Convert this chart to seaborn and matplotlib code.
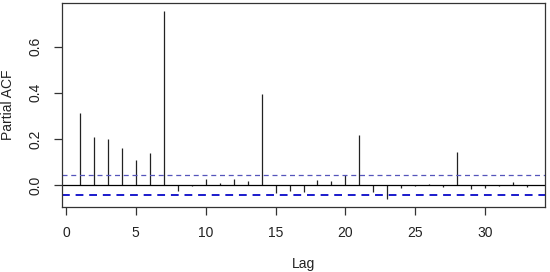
import numpy as np
import pandas as pd
import matplotlib
matplotlib.use('Agg')
import matplotlib.pyplot as plt
import seaborn as sns

# partial autocorrelation values, lags 1..33
lags = list(range(1, 34))
pacf = [0.312, 0.207, 0.200, 0.161, 0.106, 0.139, 0.757, -0.025, -0.007, 0.025,
        0.007, 0.025, 0.017, 0.396, -0.036, -0.026, -0.033, 0.022, 0.019, 0.042,
        0.215, -0.029, -0.062, -0.014, -0.004, 0.002, -0.010, 0.142, -0.019, -0.012,
        -0.005, 0.012, -0.011]
ci = 0.042
x_ticks = [0, 5, 10, 15, 20, 25, 30]
y_ticks = [0.0, 0.2, 0.4, 0.6]

df = pd.DataFrame({'lag': lags, 'pacf': pacf})

sns.set_theme(style='ticks')
plt.rcParams['font.family'] = ['Liberation Sans', 'DejaVu Sans']

fig = plt.figure(figsize=(5.5, 2.72), dpi=100)
ax = fig.add_axes([0.1127, 0.239, 0.8783, 0.750])

ax.vlines(df['lag'], 0, df['pacf'], color='#222222', linewidth=0.9)
ax.axhline(0, color='black', linewidth=0.9)
ax.axhline(ci, color='#5555bb', linestyle=(0, (4, 3)), linewidth=0.9)
ax.axhline(-ci, color='#1a1acc', linestyle=(0, (4, 3)), linewidth=1.4)

ax.set_xlim(-0.28, 34.28)
ax.set_ylim(-0.096, 0.79)
ax.set_xticks(x_ticks)
ax.set_yticks(y_ticks)
ax.set_yticklabels(['0.0', '0.2', '0.4', '0.6'], rotation=90, va='center')
for s in ax.spines.values():
    s.set_color('#333333')
    s.set_linewidth(0.9)
ax.tick_params(direction='out', length=6, width=0.9, color='#333333',
               labelsize=10, labelcolor='#222222', pad=8)
ax.set_xlabel('Lag', fontsize=10, color='#222222', labelpad=12)
ax.set_ylabel('Partial ACF', fontsize=10, color='#222222', labelpad=10)

fig.savefig('out.png', dpi=100)
